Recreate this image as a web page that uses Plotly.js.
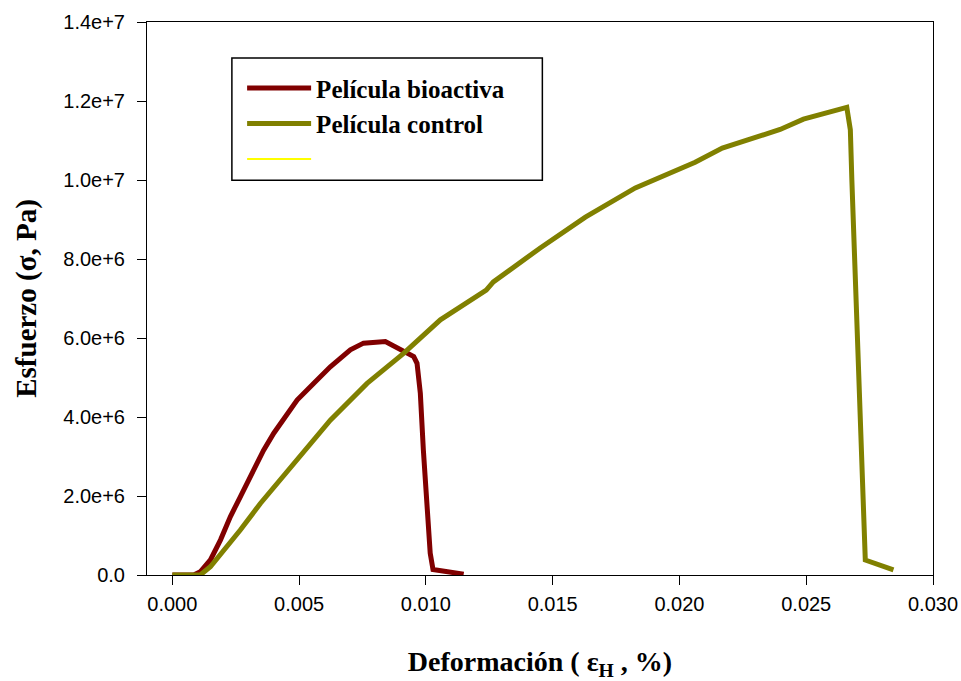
<!DOCTYPE html>
<html>
<head>
<meta charset="utf-8">
<script src="https://cdn.plot.ly/plotly-3.0.1.min.js"></script>
<style>html,body{margin:0;padding:0;background:#fff;}#chart{width:961px;height:681px;}</style>
</head>
<body>
<div id="chart"></div>
<script>
// Película bioactiva
const bioX = [0, 0.00084, 0.0011, 0.0015, 0.0019, 0.00229, 0.00268, 0.00308, 0.0036, 0.0040, 0.00452, 0.00492, 0.00557, 0.00623, 0.00702, 0.00754, 0.0084, 0.00886, 0.00952, 0.00965, 0.00978, 0.0099, 0.01004, 0.01017, 0.01028, 0.01149];
const bioY = [0, 0, 0.08e6, 0.38e6, 0.89e6, 1.48e6, 1.98e6, 2.49e6, 3.16e6, 3.59e6, 4.09e6, 4.43e6, 4.85e6, 5.27e6, 5.70e6, 5.87e6, 5.91e6, 5.74e6, 5.53e6, 5.36e6, 4.60e6, 3.16e6, 1.73e6, 0.55e6, 0.14e6, 0.02e6];
// Película control
const ctrlX = [0, 0.0011, 0.0015, 0.0019, 0.00268, 0.00347, 0.00426, 0.00505, 0.00623, 0.00768, 0.00912, 0.01057, 0.01175, 0.01238, 0.01266, 0.01451, 0.01629, 0.01826, 0.02062, 0.02169, 0.02397, 0.02489, 0.0266, 0.02674, 0.0268, 0.0270, 0.0272, 0.02733, 0.02844];
const ctrlY = [0, 0, 0.21e6, 0.51e6, 1.14e6, 1.81e6, 2.41e6, 2.99e6, 3.92e6, 4.85e6, 5.61e6, 6.46e6, 6.96e6, 7.21e6, 7.42e6, 8.28e6, 9.06e6, 9.80e6, 10.45e6, 10.81e6, 11.28e6, 11.54e6, 11.84e6, 11.27e6, 10.0e6, 6.63e6, 2.83e6, 0.38e6, 0.13e6];
// third (empty) series shown only in legend
const thirdX = [null];
const thirdY = [null];

const names = ['Película bioactiva', 'Película control', ''];
const xTicks = [0, 0.005, 0.010, 0.015, 0.020, 0.025, 0.030];
const xTickText = ['0.000', '0.005', '0.010', '0.015', '0.020', '0.025', '0.030'];
const yTicks = [0, 2e6, 4e6, 6e6, 8e6, 1e7, 1.2e7, 1.4e7];
const yTickText = ['0.0', '2.0e+6', '4.0e+6', '6.0e+6', '8.0e+6', '1.0e+7', '1.2e+7', '1.4e+7'];

const traces = [
  {x: bioX, y: bioY, name: names[0], mode: 'lines', line: {color: '#800000', width: 5}},
  {x: ctrlX, y: ctrlY, name: names[1], mode: 'lines', line: {color: '#808000', width: 5}},
  {x: thirdX, y: thirdY, name: names[2], mode: 'lines', line: {color: '#ffff00', width: 2}}
];

const layout = {
  width: 961, height: 681,
  margin: {l: 147, r: 28, t: 22, b: 106},
  paper_bgcolor: '#fff', plot_bgcolor: '#fff',
  showlegend: true,
  legend: {
    x: 0.121, y: 0.922, xanchor: 'left', yanchor: 'top',
    bgcolor: 'rgba(0,0,0,0)', borderwidth: 0,
    font: {family: 'Liberation Serif', size: 25, color: '#000', weight: 'bold'},
    traceorder: 'normal', itemwidth: 64
  },
  shapes: [{
    type: 'rect', xref: 'paper', yref: 'paper',
    x0: 0.108, x1: 0.503, y0: 0.714, y1: 0.935,
    line: {color: '#000', width: 1.5}, fillcolor: 'rgba(0,0,0,0)', layer: 'below'
  }],
  xaxis: {
    range: [-0.001, 0.030], tickvals: xTicks, ticktext: xTickText,
    showgrid: false, zeroline: false, showline: true, linecolor: '#000', linewidth: 1, mirror: true,
    ticks: 'outside', ticklen: 9, tickcolor: '#000', ticklabelstandoff: 2,
    tickfont: {family: 'Liberation Sans', size: 20, color: '#000'},
    title: {text: '<b>Deformación ( ε<sub>H</sub> , %)</b>', font: {family: 'Liberation Serif', size: 28, color: '#000'}, standoff: 37}
  },
  yaxis: {
    range: [0, 1.4e7], tickvals: yTicks, ticktext: yTickText,
    showgrid: false, zeroline: false, showline: true, linecolor: '#000', linewidth: 1, mirror: true,
    ticks: 'outside', ticklen: 9, tickcolor: '#000', ticklabelstandoff: 8,
    tickfont: {family: 'Liberation Sans', size: 20, color: '#000'},
    title: {text: '<b>Esfuerzo (σ, Pa)</b>', font: {family: 'Liberation Serif', size: 29, color: '#000'}, standoff: 18}
  }
};

Plotly.newPlot('chart', traces, layout, {displayModeBar: false, staticPlot: true});
</script>
</body>
</html>
